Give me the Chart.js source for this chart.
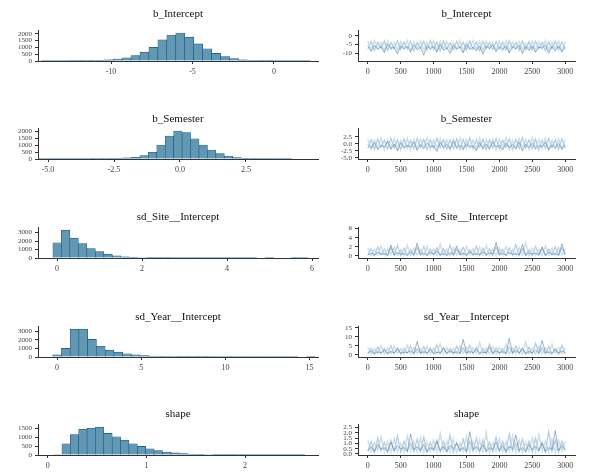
<!DOCTYPE html>
<html>
<head>
<meta charset="utf-8">
<script src="https://cdn.jsdelivr.net/npm/chart.js@4.4.1/dist/chart.umd.min.js"></script>
<style>
    body { margin: 0; background: #fff; }
    #wrap { position: relative; width: 589px; height: 476px; overflow: hidden; }
    #wrap canvas { position: absolute; }
</style>
</head>
<body>
<div id="wrap"></div>
<script>
// ---- data ----
const interceptBins = [-14.0, -13.45, -12.9, -12.35, -11.8, -11.25, -10.7, -10.15, -9.6, -9.05, -8.5, -7.95, -7.4, -6.85, -6.3, -5.75, -5.2, -4.65, -4.1, -3.55, -3.0, -2.45, -1.9, -1.35, -0.8, -0.25, 0.3, 0.85, 1.4, 1.95];
const interceptCounts = [2, 3, 5, 8, 15, 25, 45, 80, 140, 240, 400, 650, 1000, 1550, 1900, 2050, 1750, 1250, 900, 560, 320, 170, 85, 40, 18, 8, 4, 2, 1, 1];

const semesterBins = [-5.2, -4.88, -4.56, -4.24, -3.92, -3.6, -3.28, -2.96, -2.64, -2.32, -2.0, -1.68, -1.36, -1.04, -0.72, -0.4, -0.08, 0.24, 0.56, 0.88, 1.2, 1.52, 1.84, 2.16, 2.48, 2.8, 3.12, 3.44, 3.76, 4.08];
const semesterCounts = [1, 1, 1, 2, 3, 5, 8, 14, 25, 45, 80, 120, 240, 480, 1000, 1650, 2000, 1900, 1450, 1000, 640, 380, 210, 110, 50, 25, 12, 6, 3, 1];

const siteBins = [0.0, 0.2, 0.4, 0.6, 0.8, 1.0, 1.2, 1.4, 1.6, 1.8, 2.0, 2.2, 2.4, 2.6, 2.8, 3.0, 3.2, 3.4, 3.6, 3.8, 4.0, 4.2, 4.4, 4.6, 4.8, 5.0, 5.2, 5.4, 5.6, 5.8];
const siteCounts = [1800, 3300, 2350, 1700, 1100, 750, 450, 260, 150, 90, 55, 35, 22, 14, 9, 6, 4, 3, 2, 2, 1, 1, 1, 1, 0, 1, 0, 0, 1, 1];

const yearBins = [0, 0.52, 1.04, 1.56, 2.08, 2.6, 3.12, 3.64, 4.16, 4.68, 5.2, 5.72, 6.24, 6.76, 7.28, 7.8, 8.32, 8.84, 9.36, 9.88, 10.4, 10.92, 11.44, 11.96, 12.48, 13.0, 13.52, 14.04, 14.56, 15.08];
const yearCounts = [250, 1000, 3250, 3250, 2050, 1250, 800, 560, 370, 250, 170, 110, 75, 50, 35, 24, 16, 11, 8, 6, 4, 3, 2, 2, 1, 1, 1, 1, 0, 1];

const shapeBins = [0.1, 0.185, 0.27, 0.355, 0.44, 0.525, 0.61, 0.695, 0.78, 0.865, 0.95, 1.035, 1.12, 1.205, 1.29, 1.375, 1.46, 1.545, 1.63, 1.715, 1.8, 1.885, 1.97, 2.055, 2.14, 2.225, 2.31, 2.395, 2.48, 2.565];
const shapeCounts = [30, 630, 1150, 1440, 1500, 1560, 1210, 1020, 830, 630, 480, 350, 250, 170, 115, 80, 55, 38, 26, 18, 12, 8, 6, 4, 3, 2, 1, 1, 1, 1];

// trace plots, one value every 50 iterations, three chains each
const iterations = [0, 50, 100, 150, 200, 250, 300, 350, 400, 450,
    500, 550, 600, 650, 700, 750, 800, 850, 900, 950,
    1000, 1050, 1100, 1150, 1200, 1250, 1300, 1350, 1400, 1450,
    1500, 1550, 1600, 1650, 1700, 1750, 1800, 1850, 1900, 1950,
    2000, 2050, 2100, 2150, 2200, 2250, 2300, 2350, 2400, 2450,
    2500, 2550, 2600, 2650, 2700, 2750, 2800, 2850, 2900, 2950,
    3000];

const interceptChainA = [-3.2, -8.1, -2.9, -7.4, -3.8, -8.7, -3.0, -7.9, -4.1, -8.3,
    -3.4, -7.6, -2.8, -8.9, -3.6, -7.2, -3.1, -8.4, -3.9, -7.8,
    -2.9, -8.6, -3.5, -7.5, -3.3, -8.2, -4.0, -7.7, -3.0, -8.8,
    -3.7, -7.3, -2.8, -8.0, -3.4, -8.5, -3.2, -7.6, -3.9, -8.3,
    -3.1, -7.9, -2.9, -8.7, -3.6, -7.4, -3.3, -8.1, -4.2, -7.8,
    -3.0, -8.6, -3.5, -7.5, -2.9, -8.2, -3.8, -7.7, -3.2, -8.9,
    -3.4];
const interceptChainB = [-7.6, -3.3, -8.2, -3.7, -7.1, -3.0, -8.5, -3.9, -7.4, -2.9,
    -8.0, -3.5, -7.7, -3.1, -8.8, -3.8, -7.3, -3.2, -8.3, -2.8,
    -7.9, -3.6, -8.6, -3.0, -7.5, -4.0, -8.1, -3.3, -7.2, -3.7,
    -8.4, -2.9, -7.8, -3.5, -8.7, -3.1, -7.4, -3.9, -8.0, -3.2,
    -7.6, -3.6, -8.3, -3.0, -7.1, -3.8, -8.5, -2.9, -7.9, -3.4,
    -8.2, -3.1, -7.5, -3.7, -8.8, -3.3, -7.3, -3.0, -8.0, -3.6,
    -7.7];
const interceptChainC = [-6.0, -8.9, -5.5, -7.8, -6.3, -9.6, -5.0, -7.2, -6.8, -10.4,
    -5.7, -7.5, -6.1, -9.1, -5.3, -8.0, -6.6, -11.2, -5.8, -7.4,
    -6.2, -9.3, -5.1, -8.3, -6.9, -10.1, -5.6, -7.7, -6.4, -9.8,
    -5.2, -7.9, -6.7, -8.6, -5.9, -10.7, -6.0, -7.3, -5.4, -9.0,
    -6.5, -8.1, -5.7, -9.9, -6.3, -7.6, -5.5, -10.3, -6.1, -8.4,
    -5.8, -9.4, -6.6, -7.1, -5.3, -10.0, -6.2, -8.7, -5.9, -9.2,
    -6.4];

const semesterChainA = [1.6, -1.8, 1.3, -1.5, 2.0, -2.1, 1.4, -1.6, 1.8, -1.9,
    1.2, -1.4, 1.9, -2.2, 1.5, -1.7, 1.7, -1.3, 2.1, -2.0,
    1.3, -1.6, 1.8, -1.8, 1.4, -2.1, 1.6, -1.5, 2.0, -1.9,
    1.5, -1.4, 1.3, -2.0, 1.9, -1.7, 1.4, -1.6, 1.7, -2.2,
    1.6, -1.5, 2.1, -1.9, 1.3, -1.8, 1.8, -1.4, 1.5, -2.0,
    2.2, -1.6, 1.4, -1.7, 1.9, -2.1, 1.2, -1.5, 1.7, -1.8,
    1.5];
const semesterChainB = [-1.7, 1.5, -2.0, 1.8, -1.4, 1.3, -1.9, 2.0, -1.6, 1.4,
    -2.1, 1.7, -1.5, 1.2, -1.8, 1.9, -1.3, 1.6, -2.2, 1.4,
    -1.6, 2.0, -1.4, 1.5, -1.9, 1.3, -1.7, 1.8, -2.0, 1.6,
    -1.5, 2.1, -1.8, 1.4, -1.3, 1.7, -2.1, 1.5, -1.6, 1.9,
    -1.9, 1.3, -1.4, 1.8, -2.0, 1.6, -1.7, 2.2, -1.5, 1.4,
    -1.8, 1.7, -2.2, 1.3, -1.6, 1.9, -1.4, 1.5, -2.0, 1.8,
    -1.7];
const semesterChainC = [-0.2, -1.6, 0.4, -2.1, -0.5, -1.2, 0.8, -1.9, -0.1, -2.5,
    0.3, -1.4, -0.6, -1.1, 0.6, -2.3, -0.3, -1.7, 0.2, -1.0,
    -0.8, -2.7, 0.5, -1.3, -0.2, -1.8, 0.9, -1.5, -0.4, -2.0,
    0.1, -1.2, -0.7, -2.4, 0.4, -1.6, -0.1, -1.9, 0.7, -1.1,
    -0.5, -2.2, 0.3, -1.4, -0.3, -1.7, 0.6, -2.6, -0.2, -1.3,
    0.2, -1.8, -0.6, -1.0, 0.5, -2.1, -0.4, -1.5, 0.1, -1.9,
    -0.2];

const siteChainA = [1.8, 0.1, 1.5, 0.2, 2.2, 0.1, 1.6, 0.3, 1.9, 0.1,
    1.4, 0.2, 2.4, 0.1, 1.7, 0.2, 1.5, 0.1, 2.0, 0.3,
    1.6, 0.1, 2.6, 0.2, 1.5, 0.1, 1.8, 0.2, 1.4, 0.1,
    2.1, 0.3, 1.6, 0.1, 1.9, 0.2, 2.3, 0.1, 1.5, 0.2,
    1.7, 0.1, 2.0, 0.3, 1.4, 0.1, 1.8, 0.2, 2.9, 0.1,
    1.6, 0.2, 1.5, 0.1, 2.2, 0.3, 1.7, 0.1, 1.9, 0.2,
    1.6];
const siteChainB = [0.2, 1.6, 0.1, 2.0, 0.3, 1.5, 0.1, 1.8, 0.2, 2.3,
    0.1, 1.7, 0.2, 1.4, 0.1, 1.9, 0.3, 2.1, 0.1, 1.5,
    0.2, 1.8, 0.1, 1.6, 0.2, 2.4, 0.1, 1.5, 0.3, 1.9,
    0.1, 1.4, 0.2, 2.2, 0.1, 1.7, 0.2, 1.6, 0.1, 2.0,
    0.3, 1.5, 0.1, 1.8, 0.2, 2.5, 0.1, 1.6, 0.2, 1.4,
    0.1, 2.1, 0.2, 1.7, 0.1, 1.5, 0.3, 2.0, 0.1, 1.8,
    0.2];
const siteChainC = [0.2, 0.6, 0.1, 0.8, 0.3, 0.5, 0.1, 2.4, 0.2, 0.7,
    0.4, 0.5, 0.1, 0.9, 0.3, 2.8, 0.2, 0.6, 0.1, 0.8,
    0.4, 1.1, 0.2, 0.5, 0.1, 0.7, 0.3, 2.2, 0.2, 0.6,
    0.1, 0.9, 0.3, 0.5, 0.2, 1.0, 0.1, 0.7, 0.4, 3.0,
    0.2, 0.6, 0.1, 0.8, 0.3, 0.5, 0.2, 2.5, 0.1, 0.7,
    0.4, 0.6, 0.2, 2.0, 0.1, 0.8, 0.3, 0.5, 0.2, 2.6,
    0.3];

const yearChainA = [4.2, 0.6, 3.6, 0.8, 5.1, 0.5, 3.9, 0.7, 4.6, 0.9,
    3.5, 0.6, 5.5, 0.4, 4.0, 0.8, 3.7, 0.6, 4.8, 0.5,
    3.8, 0.7, 6.2, 0.6, 4.1, 0.9, 3.6, 0.5, 5.0, 0.7,
    4.3, 0.6, 3.9, 0.8, 6.8, 0.5, 3.7, 0.7, 4.5, 0.6,
    4.0, 0.9, 5.7, 0.5, 3.8, 0.7, 4.4, 0.6, 7.2, 0.8,
    3.6, 0.5, 4.7, 0.7, 3.9, 0.6, 5.9, 0.8, 4.2, 0.5,
    4.0];
const yearChainB = [0.7, 3.8, 0.5, 4.4, 0.8, 3.6, 0.6, 5.2, 0.7, 4.0,
    0.5, 3.7, 0.9, 4.9, 0.6, 3.5, 0.7, 4.6, 0.5, 3.9,
    0.8, 5.6, 0.6, 4.1, 0.7, 3.6, 0.5, 4.8, 0.9, 3.8,
    0.6, 5.3, 0.7, 4.2, 0.5, 3.7, 0.8, 6.1, 0.6, 4.0,
    0.7, 3.6, 0.5, 4.5, 0.9, 5.0, 0.6, 3.8, 0.7, 4.3,
    0.5, 6.5, 0.8, 3.9, 0.6, 4.7, 0.7, 3.6, 0.5, 5.4,
    0.7];
const yearChainC = [1.2, 2.1, 0.8, 1.7, 1.0, 2.6, 0.7, 1.9, 1.1, 3.3,
    0.9, 1.6, 1.3, 2.4, 0.8, 7.5, 1.0, 1.8, 1.2, 2.9,
    0.7, 1.5, 1.1, 3.8, 0.9, 2.2, 1.3, 1.7, 0.8, 8.6,
    1.0, 2.0, 1.2, 3.1, 0.7, 1.6, 1.1, 4.2, 0.9, 2.3,
    1.3, 1.8, 0.8, 9.2, 1.0, 2.5, 1.2, 3.5, 0.7, 1.9,
    1.1, 2.7, 0.9, 8.0, 1.3, 1.7, 0.8, 3.0, 1.0, 2.2,
    1.2];

const shapeChainA = [1.3, 0.2, 1.1, 0.3, 1.6, 0.2, 1.2, 0.15, 1.4, 0.25,
    1.0, 0.2, 1.7, 0.3, 1.2, 0.2, 1.5, 0.15, 1.1, 0.25,
    1.3, 0.2, 1.9, 0.3, 1.2, 0.2, 1.4, 0.15, 1.0, 0.25,
    1.6, 0.2, 1.2, 0.3, 1.3, 0.2, 2.0, 0.15, 1.1, 0.25,
    1.4, 0.2, 1.2, 0.3, 1.7, 0.2, 1.3, 0.15, 1.1, 0.25,
    1.5, 0.2, 1.8, 0.3, 1.2, 0.2, 1.4, 0.15, 1.3, 0.25,
    1.2];
const shapeChainB = [0.25, 1.2, 0.15, 1.5, 0.3, 1.1, 0.2, 1.3, 0.25, 1.7,
    0.15, 1.2, 0.3, 1.0, 0.2, 1.4, 0.25, 1.6, 0.15, 1.1,
    0.3, 1.3, 0.2, 1.2, 0.25, 1.8, 0.15, 1.1, 0.3, 1.4,
    0.2, 1.2, 0.25, 1.5, 0.15, 1.3, 0.3, 1.1, 0.2, 1.6,
    0.25, 1.2, 0.15, 1.9, 0.3, 1.0, 0.2, 1.4, 0.25, 1.2,
    0.15, 1.5, 0.3, 1.1, 0.2, 2.1, 0.25, 1.3, 0.15, 1.2,
    0.3];
const shapeChainC = [0.3, 0.7, 0.2, 0.9, 0.4, 0.6, 0.2, 1.1, 0.3, 0.8,
    0.5, 0.6, 0.2, 1.9, 0.4, 0.7, 0.3, 0.9, 0.2, 0.6,
    0.4, 1.2, 0.3, 0.7, 0.2, 0.8, 0.5, 1.0, 0.3, 0.6,
    0.2, 2.1, 0.4, 0.7, 0.3, 0.9, 0.2, 0.6, 0.4, 1.1,
    0.3, 0.8, 0.2, 0.7, 0.5, 1.8, 0.3, 0.6, 0.2, 0.9,
    0.4, 0.7, 0.3, 1.0, 0.2, 0.6, 0.4, 2.2, 0.3, 0.8,
    0.4];

// tick labels
const interceptValueTicks = [-10, -5, 0];
const semesterValueTicks = [-5, -2.5, 0, 2.5];
const siteValueTicks = [0, 2, 4, 6];
const yearValueTicks = [0, 5, 10, 15];
const shapeValueTicks = [0, 1, 2];
const shapeTraceTicks = [0, 0.5, 1, 1.5, 2, 2.5];

const interceptCountTicks = [0, 500, 1000, 1500, 2000];
const semesterCountTicks = [0, 500, 1000, 1500, 2000];
const siteCountTicks = [0, 1000, 2000, 3000];
const yearCountTicks = [0, 1000, 2000, 3000];
const shapeCountTicks = [0, 500, 1000, 1500];

const iterationTicks = [0, 500, 1000, 1500, 2000, 2500, 3000];

// ---- panels ----
const panels = [
    { title: 'b_Intercept', bins: interceptBins, counts: interceptCounts, countTicks: interceptCountTicks,
      valueTicks: interceptValueTicks, traceTicks: interceptValueTicks, decimals: 0, traceDecimals: 0,
      chains: [interceptChainA, interceptChainB, interceptChainC],
      min: -14.48, max: 2.7, countMax: 2200, axisY: 61, titleY: 15 },
    { title: 'b_Semester', bins: semesterBins, counts: semesterCounts, countTicks: semesterCountTicks,
      valueTicks: semesterValueTicks, traceTicks: semesterValueTicks, decimals: 1, traceDecimals: 1,
      chains: [semesterChainA, semesterChainB, semesterChainC],
      min: -5.38, max: 5.23, countMax: 2150, axisY: 159, titleY: 120 },
    { title: 'sd_Site__Intercept', bins: siteBins, counts: siteCounts, countTicks: siteCountTicks,
      valueTicks: siteValueTicks, traceTicks: siteValueTicks, decimals: 0, traceDecimals: 0,
      chains: [siteChainA, siteChainB, siteChainC],
      min: -0.45, max: 6.14, countMax: 3550, axisY: 258, titleY: 218 },
    { title: 'sd_Year__Intercept', bins: yearBins, counts: yearCounts, countTicks: yearCountTicks,
      valueTicks: yearValueTicks, traceTicks: yearValueTicks, decimals: 0, traceDecimals: 0,
      chains: [yearChainA, yearChainB, yearChainC],
      min: -1.13, max: 15.5, countMax: 3500, axisY: 357, titleY: 318 },
    { title: 'shape', bins: shapeBins, counts: shapeCounts, countTicks: shapeCountTicks,
      valueTicks: shapeValueTicks, traceTicks: shapeTraceTicks, decimals: 0, traceDecimals: 1,
      chains: [shapeChainA, shapeChainB, shapeChainC],
      min: -0.1, max: 2.74, countMax: 1680, axisY: 455, titleY: 415 }
];

// chain colours and widths: two pale chains under a thin darker one
const chainColors = ['#cfe0ec', '#b3cde0', '#3a6c96'];
const chainWidths = [1.6, 1.2, 0.5];

const FONT = "'Liberation Serif', 'DejaVu Serif', serif";
const AXIS_COLOR = '#333';
const LABEL_COLOR = '#444';
const wrap = document.getElementById('wrap');

function addCanvas(left, top, width, height) {
    const c = document.createElement('canvas');
    c.width = width;
    c.height = height;
    c.style.left = left + 'px';
    c.style.top = top + 'px';
    c.style.width = width + 'px';
    c.style.height = height + 'px';
    wrap.appendChild(c);
    return c.getContext('2d');
}

function titleOpts(text, padBottom) {
    return {
        display: true,
        text: text,
        fullSize: false,
        font: { family: FONT, size: 11, weight: 'normal' },
        color: '#111',
        padding: { top: 5, bottom: padBottom }
    };
}

function axisOpts(min, max, ticks, decimals, fontSize, fit) {
    return {
        type: 'linear',
        min: min,
        max: max,
        offset: false,
        afterBuildTicks: s => { s.ticks = ticks.map(v => ({ value: v })); },
        afterFit: fit,
        ticks: {
            font: { family: FONT, size: fontSize },
            color: LABEL_COLOR,
            padding: 3,
            autoSkip: false,
            maxRotation: 0,
            callback: v => Number(v).toFixed(decimals)
        },
        grid: { display: true, drawOnChartArea: false, drawTicks: true, tickLength: 3, color: AXIS_COLOR, offset: false },
        border: { display: true, color: AXIS_COLOR, width: 1 }
    };
}

panels.forEach(p => {
    const top = p.titleY - 12;
    const height = p.axisY - top + 26;
    const padBottom = p.axisY - p.titleY - 36.2;

    // Posterior histogram
    const histCtx = addCanvas(0, top, 325, height);
    new Chart(histCtx, {
        type: 'bar',
        data: {
            datasets: [{
                data: p.bins.map((b, i) => ({ x: b, y: p.counts[i] })),
                backgroundColor: '#6497b1',
                borderColor: '#005b96',
                borderWidth: 0.6,
                barPercentage: 1,
                categoryPercentage: 1
            }]
        },
        options: {
            responsive: false,
            animation: false,
            events: [],
            layout: { padding: { left: 0, right: 7, top: 0, bottom: 0 } },
            plugins: {
                legend: { display: false },
                tooltip: { enabled: false },
                title: titleOpts(p.title, padBottom)
            },
            scales: {
                x: axisOpts(p.min, p.max, p.valueTicks, p.decimals, 8, s => { s.height = 26; }),
                y: axisOpts(0, p.countMax, p.countTicks, 0, 7, s => { s.width = 38; })
            }
        }
    });

    // Trace plot (first dataset is drawn on top, so the dark chain goes first)
    const traceCtx = addCanvas(325, top, 264, height);
    const traceSets = [2, 1, 0].map(k => ({
        data: iterations.map((it, i) => ({ x: it, y: p.chains[k][i] })),
        borderColor: chainColors[k],
        borderWidth: chainWidths[k],
        pointRadius: 0,
        tension: 0
    }));
    new Chart(traceCtx, {
        type: 'line',
        data: { datasets: traceSets },
        options: {
            responsive: false,
            animation: false,
            events: [],
            layout: { padding: { left: 0, right: 14, top: 0, bottom: 0 } },
            plugins: {
                legend: { display: false },
                tooltip: { enabled: false },
                title: titleOpts(p.title, padBottom)
            },
            scales: {
                x: axisOpts(-150, 3150, iterationTicks, 0, 8, s => { s.height = 26; }),
                y: axisOpts(p.min, p.max, p.traceTicks, p.traceDecimals, 7, s => { s.width = 33; })
            }
        }
    });
});
</script>
</body>
</html>
